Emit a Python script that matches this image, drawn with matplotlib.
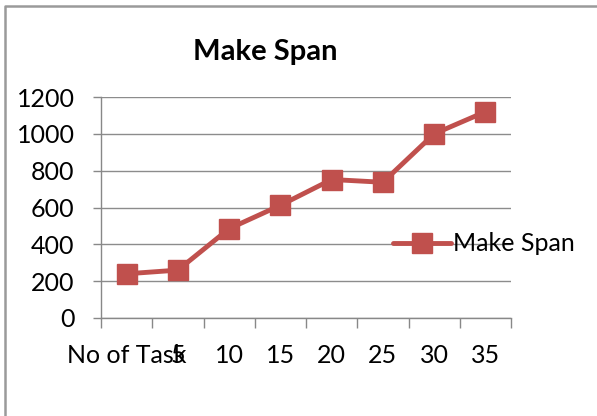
import matplotlib
matplotlib.use("Agg")
from matplotlib import pyplot as plt
from matplotlib.lines import Line2D

categories = ["No of Task", "5", "10", "15", "20", "25", "30", "35"]
make_span = [240, 260, 485, 612, 752, 737, 1000, 1120]
y_ticks = [0, 200, 400, 600, 800, 1000, 1200]

red = "#C0504D"
plt.rcParams['font.family'] = ['Lato', 'DejaVu Sans']

fig = plt.figure(figsize=(5.97, 4.16), dpi=100)
ax = fig.add_axes([0.1692, 0.2356, 0.6868, 0.5312])

x = list(range(len(categories)))
ax.plot(x, make_span, color=red, lw=3.5, marker='s', markersize=14,
        markerfacecolor=red, markeredgecolor=red, solid_capstyle='round',
        label="Make Span")

ax.set_xlim(-0.5, len(categories) - 0.5)
ax.set_ylim(0, 1200)
ax.set_yticks(y_ticks)
ax.set_xticks(x)
ax.set_xticklabels(categories)
# tick marks sit between categories, labels under the points
ax.set_xticks([i - 0.5 for i in range(len(categories) + 1)], minor=True)
ax.tick_params(axis='x', which='major', length=0, pad=19, labelsize=18)
ax.tick_params(axis='x', which='minor', length=7, color='#888888', width=1)
ax.tick_params(axis='y', length=6, color='#888888', width=1, pad=13, labelsize=18)

ax.grid(axis='y', color='#8c8c8c', lw=1)
ax.set_axisbelow(True)
for side in ['top', 'right']:
    ax.spines[side].set_visible(False)
for side in ['left', 'bottom']:
    ax.spines[side].set_color('#888888')
    ax.spines[side].set_linewidth(1)

fig.text(0.444, 0.875, "Make Span", ha='center', va='center',
         fontsize=21, fontweight='bold')

ax.legend(loc='center left', bbox_to_anchor=(0.688, 0.335), frameon=False,
          fontsize=18, handlelength=2.3, handletextpad=0.1, borderaxespad=0)

# outer chart border (top and left edges only)
border = Line2D([4.5 / 597, 4.5 / 597, 1.0], [0.0, 1 - 5.5 / 416, 1 - 5.5 / 416],
                transform=fig.transFigure, color='#9a9a9a', lw=1.8)
fig.add_artist(border)

fig.savefig("out.png", dpi=100)
